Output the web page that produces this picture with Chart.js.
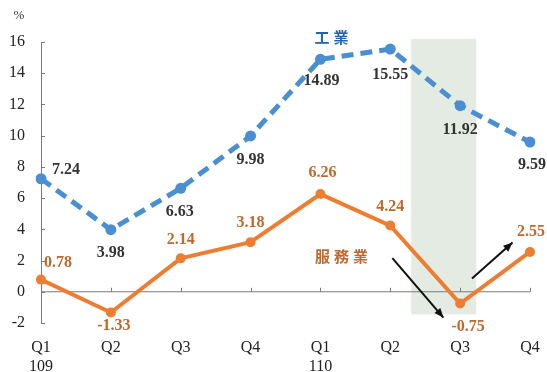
<!DOCTYPE html>
<html>
<head>
<meta charset="utf-8">
<script src="https://cdn.jsdelivr.net/npm/chart.js@4/dist/chart.umd.min.js"></script>
<style>
  html, body { margin: 0; padding: 0; background: #fff; }
  #wrap { width: 547px; height: 372px; }
</style>
</head>
<body>
<div id="wrap"><canvas id="grafica"></canvas></div>
<script>
const quarters = [['Q1', '109'], 'Q2', 'Q3', 'Q4', ['Q1', '110'], 'Q2', 'Q3', 'Q4'];
const industria = [7.24, 3.98, 6.63, 9.98, 14.89, 15.55, 11.92, 9.59];
const servicios = [0.78, -1.33, 2.14, 3.18, 6.26, 4.24, -0.75, 2.55];
const yTicks = [-2, 0, 2, 4, 6, 8, 10, 12, 14, 16];

const serif = '"Liberation Serif", "Times New Roman", serif';
const azul = '#4a8fd2';
const naranja = '#ed7d31';
const naranjaTexto = '#c0682c';

// offsets de etiquetas (px) por punto
const offAzul = [[25, -9], [0, 23], [-1, 24], [0, 24], [1, 22], [0, 26], [0, 24], [2, 23]];
const offNaranja = [[17, -17], [3, 13], [0, -19], [0, -19], [2, -21], [0, -19], [8, 23], [1, -20]];

const extras = {
    id: 'extras',
    beforeDatasetsDraw(chart) {
        const { ctx, scales: { x, y } } = chart;
        // banda sombreada sobre Q3 110
        const paso = x.getPixelForValue(1) - x.getPixelForValue(0);
        const x0 = x.getPixelForValue(5) + paso * 0.3;
        const x1 = x.getPixelForValue(6) + paso * 0.23;
        ctx.save();
        ctx.fillStyle = '#e4ebe3';
        ctx.fillRect(x0, y.getPixelForValue(16.2), x1 - x0, y.getPixelForValue(-1.45) - y.getPixelForValue(16.2));
        // línea del cero y marcas
        const y0 = y.getPixelForValue(0);
        ctx.strokeStyle = '#7a7a7a';
        ctx.lineWidth = 1;
        ctx.beginPath();
        ctx.moveTo(x.left, y0);
        ctx.lineTo(x.right, y0);
        for (let i = 1; i < quarters.length; i++) {
            const px = Math.round(x.getPixelForValue(i)) + 0.5;
            ctx.moveTo(px, y0);
            ctx.lineTo(px, y0 - 4);
        }
        yTicks.forEach(v => {
            const py = Math.round(y.getPixelForValue(v)) + 0.5;
            ctx.moveTo(x.left, py);
            ctx.lineTo(x.left + 4, py);
        });
        ctx.stroke();
        ctx.restore();
    },
    afterDatasetsDraw(chart) {
        const { ctx, scales: { x, y } } = chart;
        ctx.save();
        ctx.textAlign = 'center';
        ctx.textBaseline = 'middle';
        ctx.font = 'bold 16px ' + serif;
        industria.forEach((v, i) => {
            ctx.fillStyle = '#333333';
            ctx.fillText(v.toFixed(2), x.getPixelForValue(i) + offAzul[i][0], y.getPixelForValue(v) + offAzul[i][1]);
        });
        servicios.forEach((v, i) => {
            ctx.fillStyle = naranjaTexto;
            ctx.fillText(v.toFixed(2), x.getPixelForValue(i) + offNaranja[i][0], y.getPixelForValue(v) + offNaranja[i][1]);
        });

        // nombres de series (caracteres espaciados)
        const espaciado = (txt, cx, cy, sep) => {
            const chars = [...txt];
            const start = cx - sep * (chars.length - 1) / 2;
            chars.forEach((c, k) => ctx.fillText(c, start + k * sep, cy));
        };
        ctx.font = 'bold 15px "Noto Sans CJK TC", sans-serif';
        ctx.fillStyle = '#1f65ad';
        espaciado('工業', x.getPixelForValue(4) + 11, y.getPixelForValue(16.3), 19);
        ctx.fillStyle = naranjaTexto;
        espaciado('服務業', x.getPixelForValue(4) + 21, y.getPixelForValue(2.25), 19);

        // % arriba del eje
        ctx.font = '13px ' + serif;
        ctx.fillStyle = '#333';
        ctx.fillText('%', 19, 16);

        // flechas
        const flecha = (ax, ay, bx, by) => {
            ctx.strokeStyle = '#111';
            ctx.fillStyle = '#111';
            ctx.lineWidth = 2;
            ctx.beginPath();
            ctx.moveTo(ax, ay);
            ctx.lineTo(bx, by);
            ctx.stroke();
            const ang = Math.atan2(by - ay, bx - ax);
            ctx.beginPath();
            ctx.moveTo(bx, by);
            ctx.lineTo(bx - 10 * Math.cos(ang - 0.4), by - 10 * Math.sin(ang - 0.4));
            ctx.lineTo(bx - 10 * Math.cos(ang + 0.4), by - 10 * Math.sin(ang + 0.4));
            ctx.closePath();
            ctx.fill();
        };
        const paso = x.getPixelForValue(1) - x.getPixelForValue(0);
        flecha(x.getPixelForValue(5) + paso * 0.03, y.getPixelForValue(2.15),
               x.getPixelForValue(5) + paso * 0.76, y.getPixelForValue(-1.65));
        flecha(x.getPixelForValue(6) + paso * 0.17, y.getPixelForValue(0.85),
               x.getPixelForValue(6) + paso * 0.75, y.getPixelForValue(3.15));
        ctx.restore();
    }
};

const ctx = document.getElementById('grafica').getContext('2d');
new Chart(ctx, {
    type: 'line',
    data: {
        labels: quarters,
        datasets: [{
            label: '工業',
            data: industria,
            borderColor: azul,
            backgroundColor: azul,
            borderWidth: 5,
            borderDash: [12, 7],
            pointRadius: 5.5,
            pointBorderWidth: 0,
            tension: 0
        }, {
            label: '服務業',
            data: servicios,
            borderColor: naranja,
            backgroundColor: naranja,
            borderWidth: 4,
            pointRadius: 5,
            pointBorderWidth: 0,
            tension: 0
        }]
    },
    options: {
        responsive: true,
        maintainAspectRatio: false,
        animation: false,
        layout: { padding: { top: 42, right: 17, left: 0, bottom: 0 } },
        plugins: {
            legend: { display: false },
            tooltip: { enabled: false }
        },
        scales: {
            x: {
                offset: false,
                grid: { display: false },
                border: { display: false },
                ticks: {
                    color: '#222',
                    font: { family: serif, size: 16 },
                    padding: 7,
                    maxRotation: 0,
                    autoSkip: false
                },
                afterFit: s => { s.height = 49; }
            },
            y: {
                min: -2,
                max: 16,
                afterBuildTicks: s => { s.ticks = yTicks.map(v => ({ value: v })); },
                grid: { display: false },
                border: { display: true, color: '#7a7a7a', width: 1 },
                ticks: {
                    color: '#222',
                    font: { family: serif, size: 16 },
                    padding: 8
                },
                afterFit: s => { s.width = 41; }
            }
        }
    },
    plugins: [extras]
});
</script>
</body>
</html>
